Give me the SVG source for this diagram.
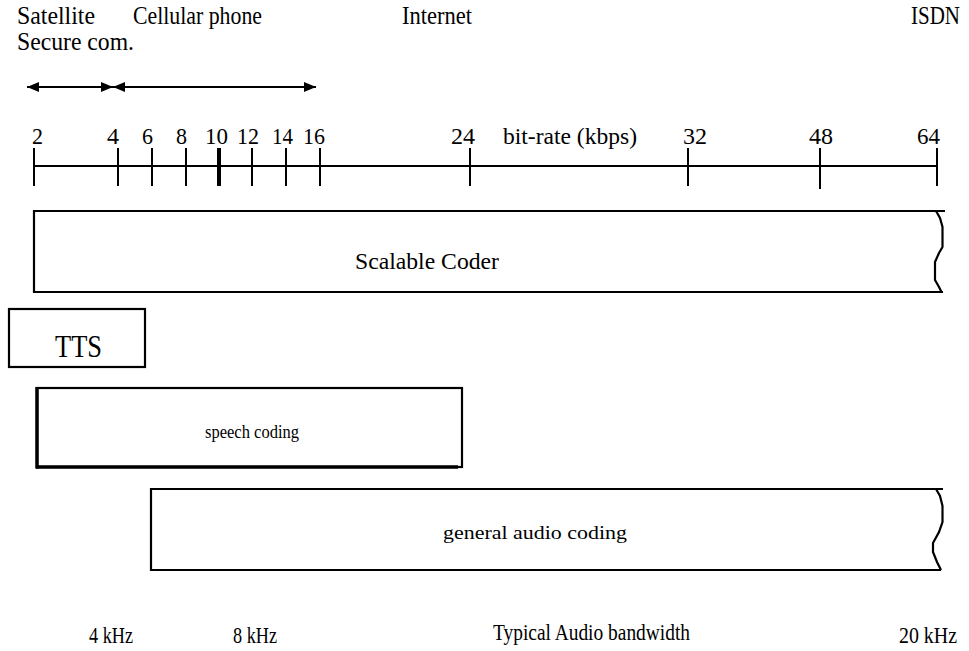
<svg xmlns="http://www.w3.org/2000/svg" width="969" height="651" viewBox="0 0 969 651">
<style>
text{font-family:"Liberation Serif","Times New Roman",Tinos,"Nimbus Roman",serif;fill:#000}
.lbl{font-size:25px}
.tick{font-size:23px}
.mid{font-size:23px}
.sm{font-size:18px}
.bot{font-size:24px}
.ln{stroke:#000;stroke-width:2;fill:none}
.box{stroke:#000;stroke-width:2.2;fill:none}
</style>
<defs>
<marker id="ah" viewBox="0 0 12 10" refX="12" refY="5" markerWidth="12" markerHeight="10" markerUnits="userSpaceOnUse" orient="auto-start-reverse">
<path d="M0,0 L12,5 L0,10 Z" fill="#000"/>
</marker>
</defs>
<rect width="969" height="651" fill="#fff"/>
<g id="top-labels">
<text class="lbl" x="17" y="24" textLength="78" lengthAdjust="spacingAndGlyphs">Satellite</text>
<text class="lbl" x="133" y="24" textLength="129" lengthAdjust="spacingAndGlyphs">Cellular phone</text>
<text class="lbl" x="402" y="24" textLength="70" lengthAdjust="spacingAndGlyphs">Internet</text>
<text class="lbl" x="911" y="24" textLength="49" lengthAdjust="spacingAndGlyphs">ISDN</text>
<text class="lbl" x="17" y="50" textLength="117" lengthAdjust="spacingAndGlyphs">Secure com.</text>
</g>
<g id="connectors">
<line class="ln" x1="27" y1="87" x2="113" y2="87" marker-start="url(#ah)" marker-end="url(#ah)"/>
<line class="ln" x1="113" y1="87" x2="316" y2="87" marker-start="url(#ah)" marker-end="url(#ah)"/>
</g>
<g id="axis">
<line class="ln" x1="34" y1="166" x2="938" y2="166"/>
<g stroke="#000" stroke-width="2">
<line x1="34" y1="148" x2="34" y2="186"/>
<line x1="118" y1="148" x2="118" y2="186"/>
<line x1="152" y1="148" x2="152" y2="186"/>
<line x1="186" y1="148" x2="186" y2="186"/>
<line x1="219" y1="148" x2="219" y2="186" stroke-width="4"/>
<line x1="252" y1="148" x2="252" y2="186"/>
<line x1="286" y1="148" x2="286" y2="186"/>
<line x1="320" y1="148" x2="320" y2="186"/>
<line x1="470" y1="148" x2="470" y2="186"/>
<line x1="688" y1="148" x2="688" y2="186"/>
<line x1="820" y1="148" x2="820" y2="189"/>
<line x1="937" y1="148" x2="937" y2="186"/>
</g>
<g class="tick">
<text x="32" y="144" textLength="11" lengthAdjust="spacingAndGlyphs">2</text>
<text x="107" y="144" textLength="12" lengthAdjust="spacingAndGlyphs">4</text>
<text x="142" y="144" textLength="11" lengthAdjust="spacingAndGlyphs">6</text>
<text x="176" y="144" textLength="11" lengthAdjust="spacingAndGlyphs">8</text>
<text x="205" y="144" textLength="23" lengthAdjust="spacingAndGlyphs">10</text>
<text x="237" y="144" textLength="22" lengthAdjust="spacingAndGlyphs">12</text>
<text x="272" y="144" textLength="21" lengthAdjust="spacingAndGlyphs">14</text>
<text x="303" y="144" textLength="22" lengthAdjust="spacingAndGlyphs">16</text>
<text x="451" y="144" textLength="24" lengthAdjust="spacingAndGlyphs">24</text>
<text x="683" y="144" textLength="24" lengthAdjust="spacingAndGlyphs">32</text>
<text x="809" y="144" textLength="24" lengthAdjust="spacingAndGlyphs">48</text>
<text x="917" y="144" textLength="23" lengthAdjust="spacingAndGlyphs">64</text>
</g>
<text class="mid" x="503" y="144" textLength="134" lengthAdjust="spacingAndGlyphs">bit-rate (kbps)</text>
</g>
<g id="scalable-coder">
<path class="box" d="M945,211 L34,211 L34,292 L943,292"/>
<path class="box" d="M936,211 L940,218 L942.5,227 L942.5,247 L939,253 L935,262 L935,280 L939,287 L941.5,292"/>
<text class="mid" x="355" y="269" textLength="144" lengthAdjust="spacingAndGlyphs">Scalable Coder</text>
</g>
<g id="tts">
<rect class="box" x="9" y="309" width="136" height="58"/>
<text x="55" y="357" font-size="31" textLength="47" lengthAdjust="spacingAndGlyphs">TTS</text>
</g>
<g id="speech-coding">
<rect class="box" x="37" y="388" width="425" height="79"/>
<line x1="37" y1="387" x2="37" y2="468.5" stroke="#000" stroke-width="3.5"/>
<line x1="36" y1="467" x2="458" y2="467" stroke="#000" stroke-width="3.5"/>
<text class="sm" x="205" y="438" textLength="94" lengthAdjust="spacingAndGlyphs">speech coding</text>
</g>
<g id="general-audio-coding">
<path class="box" d="M943,489 L151,489 L151,570 L941,570"/>
<path class="box" d="M936,489 L940,496 L942.5,506 L942.5,522 L939,532 L933,543 L933,552 L937,562 L941,570"/>
<text class="sm" x="443" y="539" textLength="184" lengthAdjust="spacingAndGlyphs">general audio coding</text>
</g>
<g id="bottom-labels">
<text class="bot" x="89" y="643" textLength="44" lengthAdjust="spacingAndGlyphs">4 kHz</text>
<text class="bot" x="233" y="643" textLength="44" lengthAdjust="spacingAndGlyphs">8 kHz</text>
<text class="bot" x="493" y="640" textLength="197" lengthAdjust="spacingAndGlyphs">Typical Audio bandwidth</text>
<text class="bot" x="899" y="643" textLength="58" lengthAdjust="spacingAndGlyphs">20 kHz</text>
</g>
</svg>
